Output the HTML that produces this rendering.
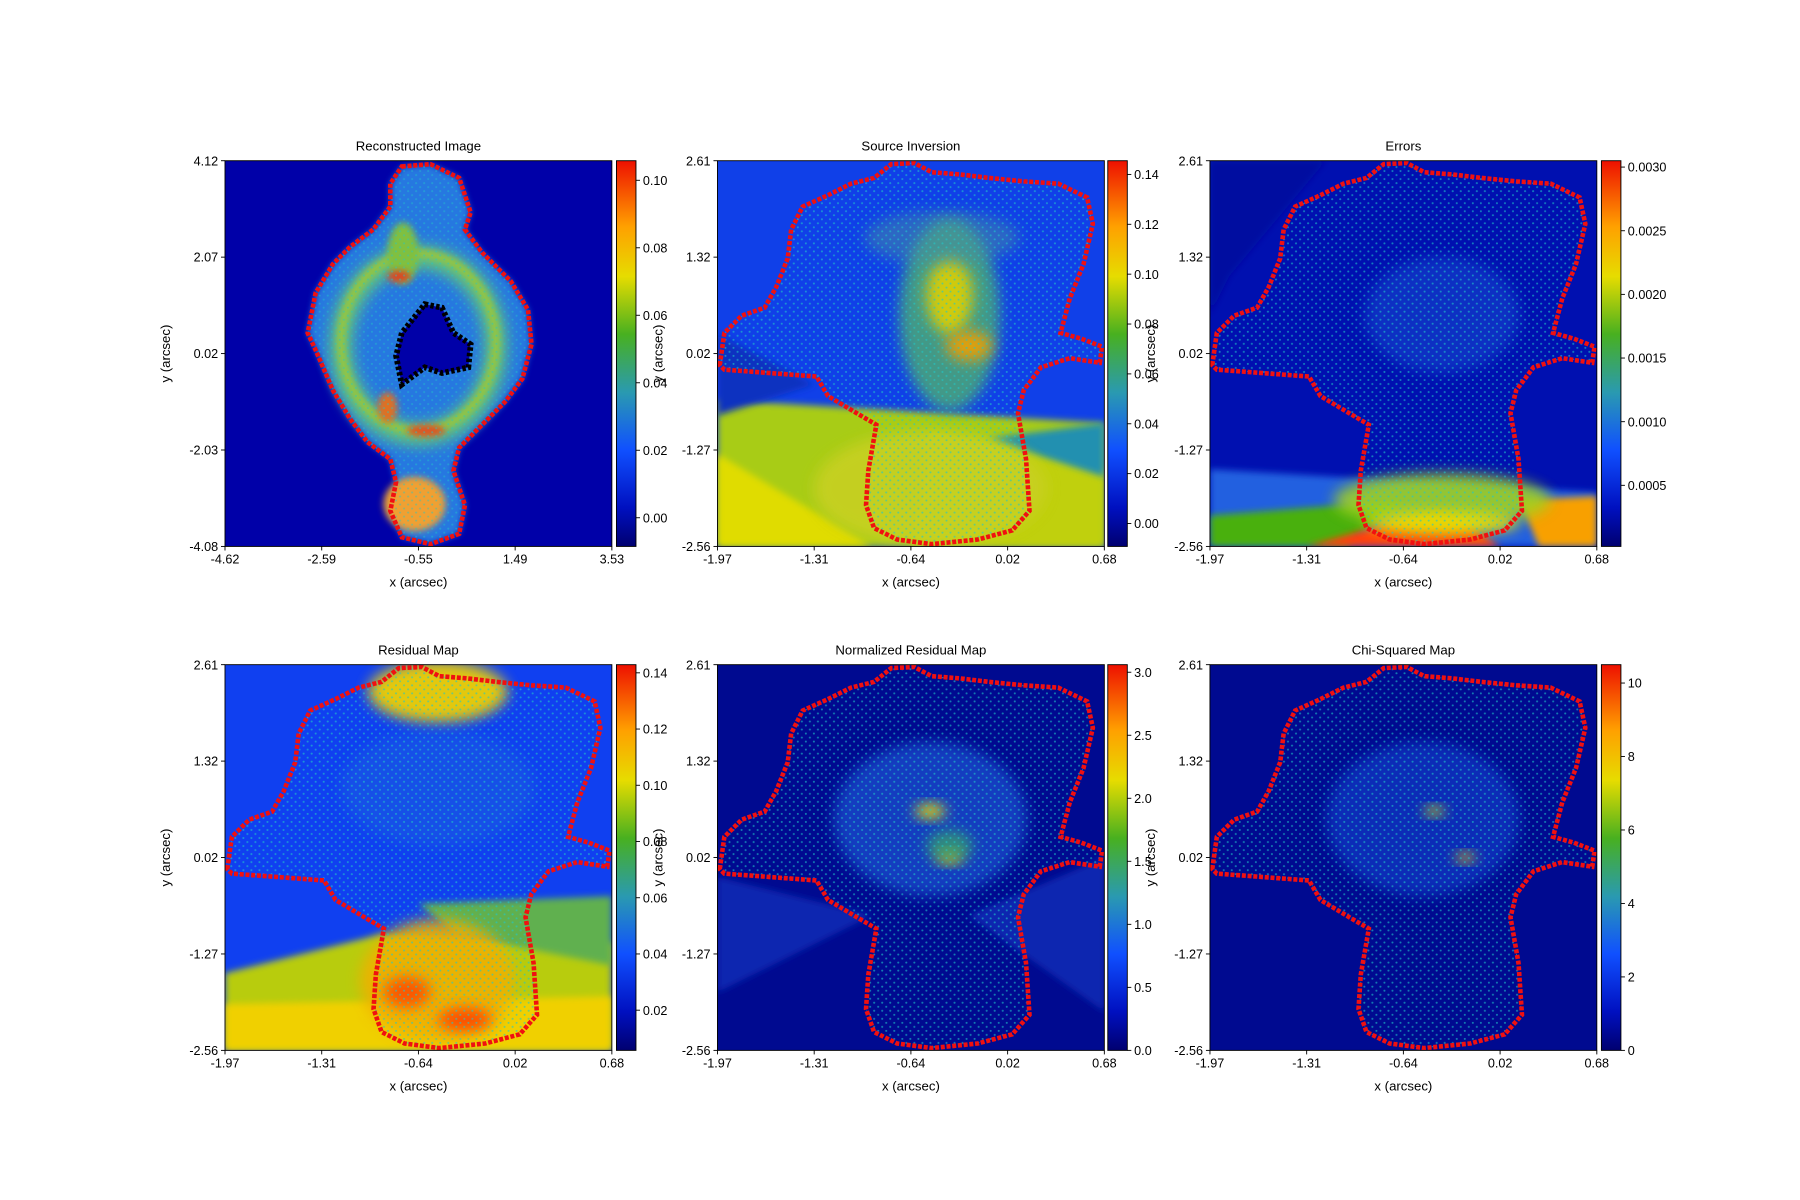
<!DOCTYPE html>
<html><head><meta charset="utf-8"><style>
html,body{margin:0;padding:0;background:#fff;}
svg{display:block;font-family:"Liberation Sans","DejaVu Sans",sans-serif;}
</style></head><body>
<svg id="fig" width="1800" height="1200" viewBox="0 0 1568 1045.33" xmlns="http://www.w3.org/2000/svg">
<defs>
<linearGradient id="cmap" x1="0" y1="1" x2="0" y2="0">
<stop offset="0" stop-color="#000070"/><stop offset="0.1" stop-color="#0010c0"/>
<stop offset="0.25" stop-color="#1050ff"/><stop offset="0.4" stop-color="#2a9ab0"/>
<stop offset="0.55" stop-color="#48b020"/><stop offset="0.7" stop-color="#e6dc00"/>
<stop offset="0.83" stop-color="#ffa000"/><stop offset="1" stop-color="#ee1000"/>
</linearGradient>
<pattern id="dots" width="7" height="7" patternUnits="userSpaceOnUse">
<circle cx="2" cy="2" r="0.9" fill="#20c8c8"/><circle cx="5.5" cy="5.5" r="0.9" fill="#20c8c8"/>
</pattern>
<filter id="blur" x="-50%" y="-50%" width="200%" height="200%"><feGaussianBlur stdDeviation="6"/></filter>
<filter id="blur2" x="-50%" y="-50%" width="200%" height="200%"><feGaussianBlur stdDeviation="3"/></filter>
</defs>
<g id="root"></g>
</svg>
<script>
const NS="http://www.w3.org/2000/svg";
const root=document.getElementById('root');
function mk(tag,attrs,parent){const e=document.createElementNS(NS,tag);for(const k in attrs)e.setAttribute(k,attrs[k]);(parent||root).appendChild(e);return e;}

// ---- data ----
const panelTitles=["Reconstructed Image","Source Inversion","Errors","Residual Map","Normalized Residual Map","Chi-Squared Map"];
const xTicks1=["-4.62","-2.59","-0.55","1.49","3.53"];
const yTicks1=["-4.08","-2.03","0.02","2.07","4.12"];
const xTicksSrc=["-1.97","-1.31","-0.64","0.02","0.68"];
const yTicksSrc=["-2.56","-1.27","0.02","1.32","2.61"];
const cbMin=[-0.0085,-0.0092,0.00002,0.0057,0,0];
const cbMax=[0.1058,0.1455,0.00305,0.1429,3.06,10.5];
const cbTicks0=[0.00,0.02,0.04,0.06,0.08,0.10];
const cbTicks1=[0.00,0.02,0.04,0.06,0.08,0.10,0.12,0.14];
const cbTicks2=[0.0005,0.0010,0.0015,0.0020,0.0025,0.0030];
const cbTicks3=[0.02,0.04,0.06,0.08,0.10,0.12,0.14];
const cbTicks4=[0.0,0.5,1.0,1.5,2.0,2.5,3.0];
const cbTicks5=[0,2,4,6,8,10];
const cbTickLabels0=["0.00","0.02","0.04","0.06","0.08","0.10"];
const cbTickLabels1=["0.00","0.02","0.04","0.06","0.08","0.10","0.12","0.14"];
const cbTickLabels2=["0.0005","0.0010","0.0015","0.0020","0.0025","0.0030"];
const cbTickLabels3=["0.02","0.04","0.06","0.08","0.10","0.12","0.14"];
const cbTickLabels4=["0.0","0.5","1.0","1.5","2.0","2.5","3.0"];
const cbTickLabels5=["0","2","4","6","8","10"];
const cbTicks=[cbTicks0,cbTicks1,cbTicks2,cbTicks3,cbTicks4,cbTicks5];
const cbLabels=[cbTickLabels0,cbTickLabels1,cbTickLabels2,cbTickLabels3,cbTickLabels4,cbTickLabels5];

// layout
const axX=[196,625,1054], axY=[140,579], W=337, H=336;
const cbOff=[341,340,341], cbW=17;

const srcOutline=[[1056,318],[1060,290],[1075,275],[1095,268],[1105,250],[1115,225],[1118,200],[1128,180],[1150,170],[1170,160],[1190,155],[1205,143],[1225,142],[1240,150],[1265,152],[1290,155],[1320,158],[1350,160],[1375,172],[1380,195],[1372,230],[1360,260],[1352,290],[1370,295],[1388,302],[1386,316],[1360,312],[1335,320],[1320,340],[1315,360],[1322,400],[1325,445],[1310,462],[1280,470],[1240,474],[1210,470],[1190,460],[1183,440],[1185,410],[1192,370],[1175,360],[1150,345],[1140,328],[1100,325],[1060,322]].map(p=>[(p[0]-1054)/336,(p[1]-140)/336]);
const imgOutline=[[350,145],[375,143],[400,155],[410,185],[405,200],[420,220],[445,245],[460,270],[463,300],[455,330],[440,350],[420,370],[400,390],[395,410],[405,440],[400,465],[375,474],[350,468],[340,445],[345,420],[340,400],[320,385],[305,365],[290,340],[275,305],[268,290],[275,255],[290,230],[305,215],[325,200],[340,180],[340,160]].map(p=>[(p[0]-196)/337,(p[1]-140)/336]);
const imgHole=[[370,265],[385,268],[395,290],[410,300],[408,320],[385,325],[370,320],[350,335],[345,310],[350,290]].map(p=>[(p[0]-196)/337,(p[1]-140)/336]);

const bgs=[
 {base:"#0000a8",polys:[],blobs:[]},
 {base:"#1040e8",polys:[[[0,0.62],[1,0.68],[1,1],[0,1],"#a8cc18"],[[0,0.76],[0.4,1],[0,1],"#e0dc00"],[[0.55,0.7],[1,0.8],[1,1],[0.5,1],"#c0d010"],[[0,0.45],[0.25,0.58],[0,0.66],"#0830c0"],[[0.7,0.72],[1,0.68],[1,0.82],"#2090b0"]],
  blobs:[[0.6,0.4,0.13,0.25,"#50b070",0.8],[0.55,0.85,0.3,0.15,"#c8d020",0.9],[0.6,0.35,0.06,0.1,"#e0d000",0.9],[0.65,0.48,0.06,0.04,"#f0a000",0.9],[0.58,0.2,0.2,0.07,"#4a90a0",0.5]]},
 {base:"#0010b0",polys:[[[0,0.8],[1,0.86],[1,1],[0,1],"#2060e0"],[[0,0.92],[0.5,0.88],[0.35,1],[0,1],"#48b010"],[[0.25,1],[0.6,0.9],[0.75,1],"#ff4010"],[[0.8,0.88],[1,0.87],[1,1],[0.85,1],"#f8a000"],[[0,0],[0.3,0],[0.05,0.3],[0,0.4],"#0008a0"]],
  blobs:[[0.6,0.88,0.28,0.07,"#a0d020",0.9],[0.6,0.94,0.2,0.03,"#f0e000",0.9],[0.6,0.4,0.2,0.15,"#2060e0",0.4]]},
 {base:"#1040f0",polys:[[[0,0.8],[0.4,0.7],[1,0.72],[1,1],[0,1],"#b8cc10"],[[0,0.88],[1,0.86],[1,1],[0,1],"#f0d000"],[[0.5,0.62],[1,0.6],[1,0.78],[0.6,0.7],"#60b050"]],
  blobs:[[0.55,0.07,0.18,0.08,"#f0d000",0.95],[0.55,0.82,0.2,0.16,"#f0b000",0.9],[0.47,0.85,0.06,0.04,"#ff4000",0.8],[0.62,0.92,0.07,0.03,"#ff3000",0.8],[0.55,0.32,0.25,0.15,"#1c60e0",0.5]]},
 {base:"#000a90",polys:[[[0,0.55],[0.4,0.65],[0,0.85],"#0828b0"],[[1,0.5],[1,0.9],[0.65,0.65],"#0828b0"]],
  blobs:[[0.55,0.4,0.25,0.2,"#2060e0",0.6],[0.55,0.38,0.04,0.018,"#f0e000",1],[0.6,0.5,0.035,0.015,"#f0c000",1],[0.6,0.47,0.06,0.04,"#40b060",0.7]]},
 {base:"#000a90",polys:[],
  blobs:[[0.55,0.4,0.25,0.2,"#1848d8",0.55],[0.58,0.38,0.025,0.012,"#e0e000",1],[0.66,0.5,0.025,0.012,"#f0c000",1]]}
];

for(let i=0;i<6;i++){
  const col=i%3,row=Math.floor(i/3);
  const x0=axX[col],y0=axY[row];
  const g=mk('g',{});
  
  
  const clipId='clip'+i;
  const cp=mk('clipPath',{id:clipId},g);mk('rect',{x:x0,y:y0,width:W,height:H},cp);
  const pl=mk('g',{'clip-path':'url(#'+clipId+')'},g);
  const bg=bgs[i];
  const heat=mk('rect',{x:x0,y:y0,width:W,height:H,fill:bg.base},pl);
  
  
  const P=p=>(x0+p[0]*W).toFixed(1)+','+(y0+p[1]*H).toFixed(1);
  bg.polys.forEach(pp=>{const c=pp[pp.length-1];mk('polygon',{points:pp.slice(0,-1).map(P).join(' '),fill:c,filter:'url(#blur2)'},pl);});
  const outline=(i===0)?imgOutline:srcOutline;
  const opts=outline.map(P).join(' ');
  if(i===0){
    mk('polygon',{points:opts,fill:'#2878e0',filter:'url(#blur2)'},pl);
    mk('ellipse',{cx:x0+0.5*W,cy:y0+0.48*H,rx:0.2*W,ry:0.23*H,fill:'none',stroke:'#60c080','stroke-width':20,filter:'url(#blur)'},pl);
    mk('ellipse',{cx:x0+0.5*W,cy:y0+0.47*H,rx:0.2*W,ry:0.23*H,fill:'none',stroke:'#a0c830','stroke-width':6,filter:'url(#blur2)'},pl);
    mk('ellipse',{cx:x0+0.49*W,cy:y0+0.89*H,rx:0.08*W,ry:0.07*H,fill:'#f0a030',filter:'url(#blur2)'},pl);
    mk('ellipse',{cx:x0+0.46*W,cy:y0+0.24*H,rx:0.04*W,ry:0.08*H,fill:'#80c040',filter:'url(#blur2)'},pl);
    mk('ellipse',{cx:x0+0.45*W,cy:y0+0.3*H,rx:0.03*W,ry:0.015*H,fill:'#e04020',filter:'url(#blur2)'},pl);
    mk('ellipse',{cx:x0+0.52*W,cy:y0+0.7*H,rx:0.05*W,ry:0.015*H,fill:'#e05020',filter:'url(#blur2)'},pl);
    mk('ellipse',{cx:x0+0.42*W,cy:y0+0.64*H,rx:0.025*W,ry:0.04*H,fill:'#e07020',filter:'url(#blur2)'},pl);
    mk('polygon',{points:opts,fill:'url(#dots)',opacity:0.45},pl);
    mk('polygon',{points:imgHole.map(P).join(' '),fill:'#0000a8',stroke:'#000',"stroke-width":5,"stroke-dasharray":"3 2"},pl);
  }
  bg.blobs.forEach(b=>mk('ellipse',{cx:x0+b[0]*W,cy:y0+b[1]*H,rx:b[2]*W,ry:b[3]*H,fill:b[4],opacity:b[5],filter:'url(#blur)'},pl));
  if(i>0) mk('polygon',{points:opts,fill:'url(#dots)',opacity:0.6},pl);
  const ol=mk('polygon',{points:opts,fill:'none',stroke:'#f01010','stroke-width':4,'stroke-dasharray':'3.5 1.5'},pl);
  
  
  mk('rect',{x:x0,y:y0,width:W,height:H,fill:'none',stroke:'#000','stroke-width':0.8},g);
  const t=mk('text',{x:x0+W/2,y:y0-9,'text-anchor':'middle','font-size':11.5},g);t.textContent=panelTitles[i];
  
  
  const xt=(i===0)?xTicks1:xTicksSrc, yt=(i===0)?yTicks1:yTicksSrc;
  xt.forEach((lab,k)=>{const x=x0+k*W/(xt.length-1);mk('line',{x1:x,x2:x,y1:y0+H,y2:y0+H+3.5,stroke:'#000','stroke-width':0.8},g);
    const tx=mk('text',{x:x,y:y0+H+15,'text-anchor':'middle','font-size':11},g);tx.textContent=lab;
    
    });
  yt.forEach((lab,k)=>{const y=y0+H-k*H/(yt.length-1);mk('line',{x1:x0-3.5,x2:x0,y1:y,y2:y,stroke:'#000','stroke-width':0.8},g);
    const ty=mk('text',{x:x0-6,y:y+4,'text-anchor':'end','font-size':11},g);ty.textContent=lab;
    
    });
  const xl=mk('text',{x:x0+W/2,y:y0+H+35,'text-anchor':'middle','font-size':11.5},g);xl.textContent='x (arcsec)';
  
  
  const ly=y0+H/2, lx=x0-48;
  const yl=mk('text',{x:lx,y:ly,'text-anchor':'middle','font-size':11.5,transform:'rotate(-90 '+lx+' '+ly+')'},g);yl.textContent='y (arcsec)';
  
  
  const cx=x0+cbOff[col];
  const cb=mk('rect',{x:cx,y:y0,width:cbW,height:H,fill:'url(#cmap)',stroke:'#000','stroke-width':0.8},g);
  
  
  const vy=v=>y0+H-(v-cbMin[i])/(cbMax[i]-cbMin[i])*H;
  cbTicks[i].forEach((v,k)=>{const y=vy(v);mk('line',{x1:cx+cbW,x2:cx+cbW+3.5,y1:y,y2:y,stroke:'#000','stroke-width':0.8},g);
    const ct=mk('text',{x:cx+cbW+6,y:y+4,'font-size':11},g);ct.textContent=cbLabels[i][k];
    
    });
}
</script>
</body></html>
